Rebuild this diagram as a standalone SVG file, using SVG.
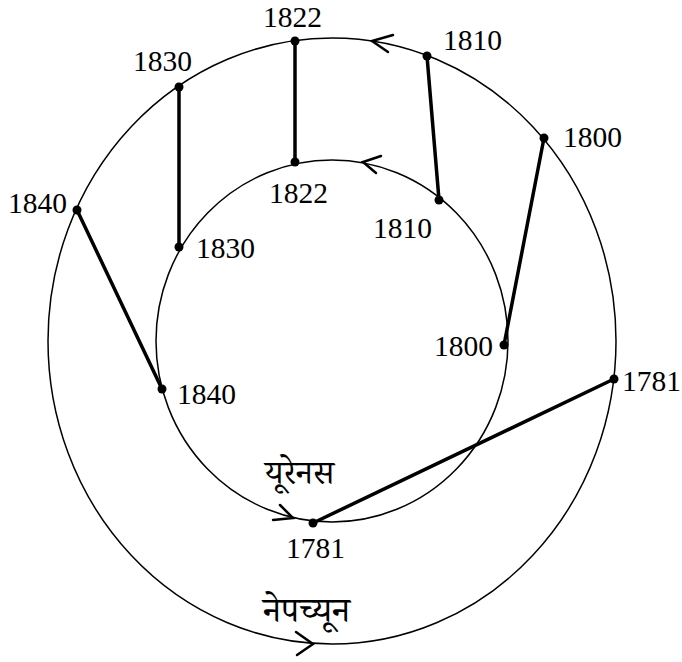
<svg xmlns="http://www.w3.org/2000/svg" width="682" height="662" viewBox="0 0 682 662">
<style>
.orbit{fill:none;stroke:#000;stroke-width:1.5}
.link{stroke:#000;stroke-width:3.5;stroke-linecap:round}
.chev{fill:none;stroke:#000;stroke-width:2.5;stroke-linecap:round;stroke-linejoin:miter}
.dot{fill:#000}
.yr{font-family:"Liberation Serif","Times New Roman",serif;font-size:29.5px;fill:#000}
.hi{font-family:"Noto Serif Devanagari","Noto Sans Devanagari","Lohit Devanagari","FreeSerif",serif;fill:#000}
</style>
<rect width="682" height="662" fill="#fff"/>
<g id="neptune-orbit">
<ellipse class="orbit" cx="332" cy="341" rx="284" ry="303"/>
<path class="chev" d="M393,35 L372,41 L388,52"/>
<path class="chev" d="M296,632 L313,644 L297,655"/>
<text class="hi" x="263" y="622" font-size="35">नेपच्यून</text>
</g>
<g id="uranus-orbit">
<ellipse class="orbit" cx="332" cy="341" rx="176" ry="181"/>
<path class="chev" d="M381,156 L363,162 L376,173"/>
<path class="chev" d="M280,505 L293,518 L273,520"/>
<text class="hi" x="265" y="484" font-size="33">यूरेनस</text>
</g>
<g id="connectors">
<line class="link" x1="295" y1="41" x2="295" y2="162"/>
<line class="link" x1="179" y1="87" x2="179" y2="247"/>
<line class="link" x1="77" y1="210" x2="162" y2="389"/>
<line class="link" x1="427" y1="56" x2="439" y2="200"/>
<line class="link" x1="544" y1="138" x2="504" y2="345"/>
<line class="link" x1="614" y1="379" x2="313" y2="523"/>
</g>
<g id="n1781"><circle class="dot" cx="614" cy="379" r="4.5"/><text class="yr" x="622" y="391">1781</text></g>
<g id="n1800"><circle class="dot" cx="544" cy="138" r="4.5"/><text class="yr" x="563" y="147">1800</text></g>
<g id="n1810"><circle class="dot" cx="427" cy="56" r="4.5"/><text class="yr" x="443" y="50">1810</text></g>
<g id="n1822"><circle class="dot" cx="295" cy="41" r="4.5"/><text class="yr" x="263" y="27">1822</text></g>
<g id="n1830"><circle class="dot" cx="179" cy="87" r="4.5"/><text class="yr" x="133" y="71">1830</text></g>
<g id="n1840"><circle class="dot" cx="77" cy="210" r="4.5"/><text class="yr" x="8" y="213">1840</text></g>
<g id="u1781"><circle class="dot" cx="313" cy="523" r="4.5"/><text class="yr" x="286" y="558">1781</text></g>
<g id="u1800"><circle class="dot" cx="504" cy="345" r="4.5"/><text class="yr" x="434" y="356">1800</text></g>
<g id="u1810"><circle class="dot" cx="439" cy="200" r="4.5"/><text class="yr" x="373" y="238">1810</text></g>
<g id="u1822"><circle class="dot" cx="295" cy="162" r="4.5"/><text class="yr" x="269" y="203">1822</text></g>
<g id="u1830"><circle class="dot" cx="179" cy="247" r="4.5"/><text class="yr" x="196" y="258">1830</text></g>
<g id="u1840"><circle class="dot" cx="162" cy="389" r="4.5"/><text class="yr" x="177" y="404">1840</text></g>
</svg>
